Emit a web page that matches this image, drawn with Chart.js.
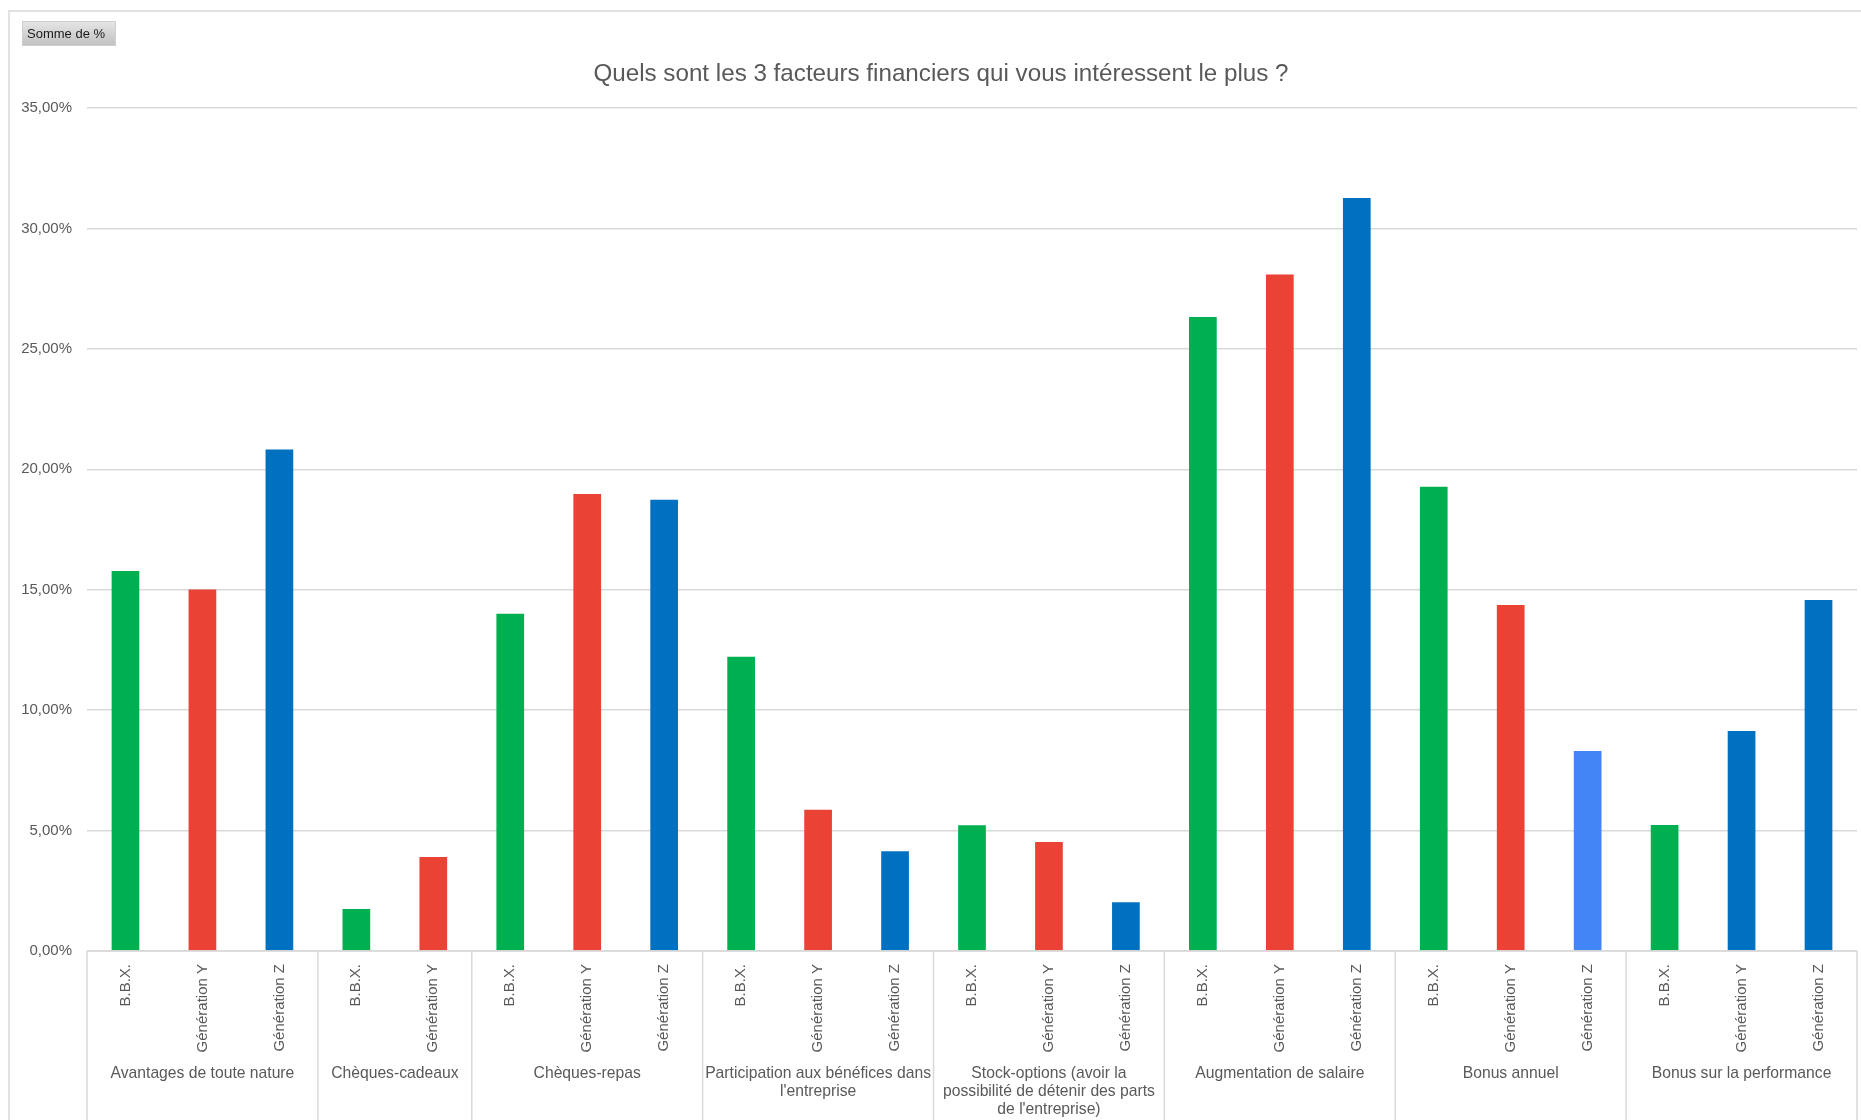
<!DOCTYPE html>
<html lang="fr">
<head>
<meta charset="utf-8">
<title>Facteurs financiers</title>
<script src="https://cdn.jsdelivr.net/npm/chart.js@4.4.1/dist/chart.umd.min.js"></script>
<style>
  html, body { margin: 0; padding: 0; background: #ffffff; }
  canvas { display: block; }
</style>
</head>
<body>
<canvas id="facteursChart" width="1861" height="1120"></canvas>
<script>
// Libellés des regroupements (une entrée par ligne de texte)
const facteurs = [
    ['Avantages de toute nature'],
    ['Chèques-cadeaux'],
    ['Chèques-repas'],
    ['Participation aux bénéfices dans', "l'entreprise"],
    ['Stock-options (avoir la', 'possibilité de détenir des parts', "de l'entreprise)"],
    ['Augmentation de salaire'],
    ['Bonus annuel'],
    ['Bonus sur la performance']
];

// Générations présentes dans chaque regroupement
const generations = [
    ['B.B.X.', 'Génération Y', 'Génération Z'],
    ['B.B.X.', 'Génération Y'],
    ['B.B.X.', 'Génération Y', 'Génération Z'],
    ['B.B.X.', 'Génération Y', 'Génération Z'],
    ['B.B.X.', 'Génération Y', 'Génération Z'],
    ['B.B.X.', 'Génération Y', 'Génération Z'],
    ['B.B.X.', 'Génération Y', 'Génération Z'],
    ['B.B.X.', 'Génération Y', 'Génération Z']
];

// Somme de % par regroupement et par génération
const pourcentages = [
    [15.78, 15.01, 20.82],
    [1.74, 3.90],
    [14.00, 18.97, 18.73],
    [12.22, 5.86, 4.14],
    [5.22, 4.53, 2.02],
    [26.32, 28.09, 31.26],
    [19.27, 14.37, 8.30],
    [5.23, 9.13, 14.57]
];

// Graduations de l'axe vertical
const graduations = [0, 5, 10, 15, 20, 25, 30, 35];

const titre = 'Quels sont les 3 facteurs financiers qui vous intéressent le plus ?';

// Aplatissement pour Chart.js
const labels = generations.flat();
const valeurs = pourcentages.flat();
const groupeDe = generations.flatMap((g, i) => g.map(() => i));

const police = '"Liberation Sans", Arial, sans-serif';
const gris = '#595959';
const trait = '#d9d9d9';

const couleursGeneration = {
    'B.B.X.': '#00b050',
    'Génération Y': '#ea4335',
    'Génération Z': '#0070c0'
};

function couleurBarre(i) {
    const groupe = facteurs[groupeDe[i]][0];
    const gen = labels[i];
    if (groupe === 'Bonus annuel' && gen === 'Génération Z') return '#4285f4';
    if (groupe === 'Bonus sur la performance' && gen === 'Génération Y') return '#0070c0';
    return couleursGeneration[gen];
}

// Cadre, titre, bouton de champ et axe à deux niveaux
const cadrePlugin = {
    id: 'cadre',
    afterDraw(chart) {
        const ctx = chart.ctx;
        const area = chart.chartArea;
        const x = chart.scales.x;
        ctx.save();

        // bordure extérieure
        ctx.strokeStyle = trait;
        ctx.lineWidth = 1.5;
        ctx.beginPath();
        ctx.moveTo(9, chart.height);
        ctx.lineTo(9, 11);
        ctx.lineTo(chart.width, 11);
        ctx.stroke();

        // titre
        ctx.fillStyle = gris;
        ctx.font = '24.2px ' + police;
        ctx.textAlign = 'center';
        ctx.textBaseline = 'middle';
        ctx.fillText(titre, 941, 74);

        // bouton "Somme de %"
        const grad = ctx.createLinearGradient(0, 22, 0, 45);
        grad.addColorStop(0, '#e4e4e4');
        grad.addColorStop(1, '#c2c2c2');
        ctx.fillStyle = grad;
        ctx.fillRect(23, 22, 92, 23);
        ctx.strokeStyle = '#cfcfcf';
        ctx.lineWidth = 1;
        ctx.strokeRect(22.5, 21.5, 93, 24);
        ctx.fillStyle = '#1a1a1a';
        ctx.font = '13px ' + police;
        ctx.textBaseline = 'middle';
        ctx.textAlign = 'left';
        ctx.fillText('Somme de %', 27, 34);

        // lignes de séparation sous l'axe
        const bornes = [area.left];
        let n = 0;
        generations.forEach((g, i) => {
            n += g.length;
            if (i < generations.length - 1) {
                bornes.push((x.getPixelForValue(n - 1) + x.getPixelForValue(n)) / 2);
            }
        });
        bornes.push(area.right);

        ctx.strokeStyle = trait;
        ctx.lineWidth = 1.5;
        ctx.beginPath();
        ctx.moveTo(area.left, area.bottom);
        ctx.lineTo(area.right, area.bottom);
        bornes.forEach(b => {
            ctx.moveTo(b, area.bottom);
            ctx.lineTo(b, chart.height);
        });
        ctx.stroke();

        // libellés des regroupements
        ctx.fillStyle = gris;
        ctx.font = '15.7px ' + police;
        ctx.textAlign = 'center';
        ctx.textBaseline = 'middle';
        facteurs.forEach((lignes, i) => {
            const cx = (bornes[i] + bornes[i + 1]) / 2;
            lignes.forEach((l, k) => {
                ctx.fillText(l, cx, area.bottom + 123 + k * 18);
            });
        });
        ctx.restore();
    }
};

const ctx = document.getElementById('facteursChart').getContext('2d');
new Chart(ctx, {
    type: 'bar',
    data: {
        labels: labels,
        datasets: [{
            label: 'Somme de %',
            data: valeurs,
            backgroundColor: valeurs.map((v, i) => couleurBarre(i)),
            borderWidth: 0,
            barPercentage: 0.36,
            categoryPercentage: 1
        }]
    },
    options: {
        responsive: false,
        animation: false,
        devicePixelRatio: 1,
        layout: { padding: { left: 0, right: 4, top: 108, bottom: 0 } },
        scales: {
            x: {
                grid: { display: false },
                border: { display: false },
                ticks: {
                    autoSkip: false,
                    minRotation: 90,
                    maxRotation: 90,
                    padding: 5,
                    color: gris,
                    font: { family: police, size: 15 }
                },
                afterFit: scale => { scale.height = 169; }
            },
            y: {
                min: 0,
                max: 35,
                afterBuildTicks: scale => {
                    scale.ticks = graduations.map(v => ({ value: v }));
                },
                grid: { color: trait, lineWidth: 1.5, drawTicks: false },
                border: { display: false },
                ticks: {
                    padding: 15,
                    color: gris,
                    font: { family: police, size: 15 },
                    callback: v => v.toFixed(2).replace('.', ',') + '%'
                },
                afterFit: scale => { scale.width = 87; }
            }
        },
        plugins: {
            legend: { display: false },
            tooltip: { enabled: false },
            title: { display: false }
        }
    },
    plugins: [cadrePlugin]
});
</script>
</body>
</html>
